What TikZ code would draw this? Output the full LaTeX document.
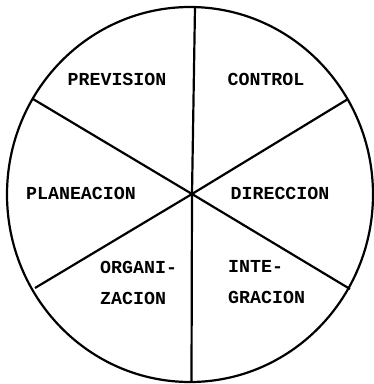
\documentclass[tikz,border=0pt]{standalone}
\usepackage{fontspec}
\newfontfamily\tw{Liberation Mono}
\begin{document}
\begin{tikzpicture}[x=1pt,y=-1pt,
  rim/.style={line width=2.2pt},
  spoke/.style={line width=2.2pt},
  lbl/.style={font=\tw\bfseries\fontsize{18.3}{31}\selectfont, inner sep=0pt},
  lbl2/.style={lbl, align=left, anchor=west}]
\useasboundingbox (0,0) rectangle (374,384);
\draw[rim] (190,194.5) ellipse [x radius=183, y radius=187.5];
\coordinate (c) at (192,194);
\coordinate (t) at (195,7);
\coordinate (b) at (191.5,382);
\coordinate (ul) at (33,99);
\coordinate (ur) at (348,99);
\coordinate (ll) at (35,288);
\coordinate (lr) at (350,289);
\draw[spoke] (t) -- (c) -- (b);
\draw[spoke] (ul) -- (c) -- (lr);
\draw[spoke] (ur) -- (c) -- (ll);
\node[lbl] (prev) at (117,79) {PREVISION};
\node[lbl] (ctrl) at (266,79) {CONTROL};
\node[lbl] (plan) at (81,193) {PLANEACION};
\node[lbl] (dir) at (280,193) {DIRECCION};
\node[lbl2] (org) at (100,282.5) {ORGANI-\\ZACION};
\node[lbl2] (int) at (228,282.5) {INTE-\\GRACION};
\end{tikzpicture}
\end{document}
